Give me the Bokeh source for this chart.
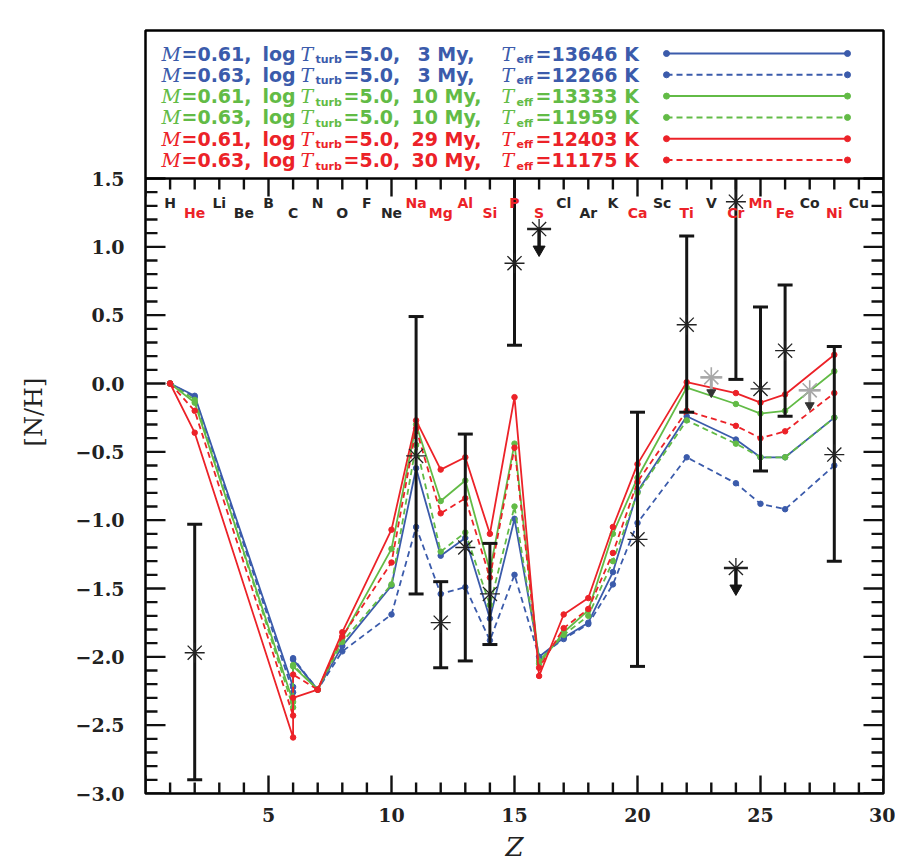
import numpy as np
from bokeh.plotting import figure
from bokeh.models import Range1d, LinearAxis, FixedTicker, Span
from bokeh.core.properties import value
from bokeh.embed import file_html
from bokeh.resources import INLINE

# ---------------- data ----------------
elements = ["H", "He", "Li", "Be", "B", "C", "N", "O", "F", "Ne", "Na", "Mg", "Al", "Si", "P",
            "S", "Cl", "Ar", "K", "Ca", "Sc", "Ti", "V", "Cr", "Mn", "Fe", "Co", "Ni", "Cu"]
observed_elements = ["He", "Na", "Mg", "Al", "Si", "P", "S", "Ca", "Ti", "Cr", "Mn", "Fe", "Ni"]

model_z = [1, 2, 6, 6, 7, 8, 10, 11, 12, 13, 14, 15, 16, 17, 18, 19, 20, 22, 24, 25, 26, 28]
blue_solid   = [0, -0.09, -2.22, -2.02, -2.24, -1.92, -1.48, -0.62, -1.26, -1.13, -1.72, -0.99, -2.00, -1.86, -1.75, -1.38, -0.79, -0.24, -0.41, -0.54, -0.54, -0.25]
blue_dashed  = [0, -0.10, -2.26, -2.01, -2.24, -1.96, -1.69, -1.05, -1.54, -1.49, -1.88, -1.40, -2.00, -1.87, -1.76, -1.47, -1.02, -0.54, -0.73, -0.88, -0.92, -0.60]
green_solid  = [0, -0.14, -2.33, -2.07, -2.24, -1.86, -1.21, -0.30, -0.86, -0.71, -1.37, -0.44, -2.05, -1.82, -1.66, -1.10, -0.69, -0.03, -0.15, -0.22, -0.20, 0.09]
green_dashed = [0, -0.12, -2.37, -2.06, -2.24, -1.89, -1.47, -0.45, -1.23, -1.09, -1.62, -0.90, -2.03, -1.84, -1.70, -1.30, -0.80, -0.27, -0.44, -0.54, -0.54, -0.25]
red_solid    = [0, -0.36, -2.59, -2.30, -2.24, -1.82, -1.07, -0.27, -0.63, -0.54, -1.10, -0.10, -2.14, -1.69, -1.57, -1.05, -0.59, 0.01, -0.07, -0.14, -0.08, 0.21]
red_dashed   = [0, -0.20, -2.43, -2.13, -2.24, -1.85, -1.31, -0.33, -0.95, -0.84, -1.42, -0.47, -2.08, -1.79, -1.65, -1.24, -0.72, -0.20, -0.31, -0.40, -0.35, -0.07]

# observed abundances with error bars
obs_z   = [2, 11, 12, 13, 14, 15, 20, 22, 24, 25, 26, 28]
obs_val = [-1.97, -0.53, -1.75, -1.20, -1.54, 0.88, -1.14, 0.43, 1.33, -0.04, 0.24, -0.52]
obs_lo  = [-2.90, -1.54, -2.08, -2.03, -1.91, 0.28, -2.07, -0.21, 0.03, -0.64, -0.24, -1.30]
obs_hi  = [-1.03, 0.49, -1.45, -0.37, -1.17, 1.55, -0.21, 1.08, 2.63, 0.56, 0.72, 0.27]

# upper limits
ul_z   = [16, 24]
ul_val = [1.13, -1.35]
ul_gray_z   = [23, 27]
ul_gray_val = [0.045, -0.05]

# legend content
leg_mass = ["0.61", "0.63", "0.61", "0.63", "0.61", "0.63"]
leg_logturb = ["5.0"] * 6
leg_age = ["3", "3", "10", "10", "29", "30"]
leg_teff = ["13646", "12266", "13333", "11959", "12403", "11175"]

x_tick_values = [5, 10, 15, 20, 25, 30]
x_tick_labels = ["5", "10", "15", "20", "25", "30"]
y_tick_values = [-3.0, -2.5, -2.0, -1.5, -1.0, -0.5, 0.0, 0.5, 1.0, 1.5]
y_tick_labels = ["\u22123.0", "\u22122.5", "\u22122.0", "\u22121.5", "\u22121.0", "\u22120.5",
                 "0.0", "0.5", "1.0", "1.5"]

# ---------------- geometry / styles ----------------
BLUE, GREEN, RED = "#3b5bab", "#62bb46", "#ec2228"
series = [
    (blue_solid, BLUE, "solid"), (blue_dashed, BLUE, "6 4"),
    (green_solid, GREEN, "solid"), (green_dashed, GREEN, "6 4"),
    (red_solid, RED, "solid"), (red_dashed, RED, "6 4"),
]
SERIF = value("DejaVu Serif")
SANS = value("DejaVu Sans")

XMIN, XMAX, YMIN, YMAX = 0, 30, -3.0, 1.5
FW, PLOT_H, LEG_H = 738, 615, 148          # frame width, plot height, legend panel height (px)
YTOP = YMAX + LEG_H * (YMAX - YMIN) / PLOT_H  # legend panel lives above y = 1.5
PX_X = (XMAX - XMIN) / FW                    # data units per pixel
PX_Y = (YMAX - YMIN) / PLOT_H

p = figure(frame_width=FW, frame_height=PLOT_H + LEG_H,
           x_range=Range1d(XMIN, XMAX), y_range=Range1d(YMIN, YTOP),
           output_backend="svg", toolbar_location=None,
           x_axis_location=None, y_axis_location=None,
           min_border_left=145, min_border_right=12, min_border_top=30, min_border_bottom=68)
p.grid.visible = False
p.outline_line_color = "black"
p.outline_line_width = 2.5
p.background_fill_color = "white"
p.border_fill_color = "white"

# axes (labels only; ticks drawn inside the frame below)
xb = LinearAxis(ticker=FixedTicker(ticks=x_tick_values))
xb.major_label_overrides = dict(zip(x_tick_values, x_tick_labels))
yl = LinearAxis(ticker=FixedTicker(ticks=y_tick_values))
yl.major_label_overrides = dict(zip(y_tick_values, y_tick_labels))
for ax in (xb, yl):
    ax.axis_line_color = None
    ax.major_tick_line_color = None
    ax.minor_tick_line_color = None
    ax.major_tick_in = 0
    ax.major_tick_out = 0
    ax.minor_tick_in = 0
    ax.minor_tick_out = 0
    ax.major_label_text_font = "DejaVu Serif"
    ax.major_label_text_font_style = "bold"
    ax.major_label_text_font_size = "19px"
    ax.major_label_text_color = "#222222"
    ax.axis_label_text_color = "#222222"
    ax.axis_label_text_font = "DejaVu Serif"
xb.major_label_standoff = 14
xb.axis_label = "Z"
xb.axis_label_text_font_style = "italic"
xb.axis_label_text_font_size = "26px"
xb.axis_label_standoff = 7
yl.major_label_standoff = 21
yl.axis_label = "[N/H]"
yl.axis_label_text_font_style = "normal"
yl.axis_label_text_font_size = "24px"
yl.axis_label_standoff = 25
p.add_layout(xb, "below")
p.add_layout(yl, "left")

# separator between legend panel and plot
p.add_layout(Span(location=YMAX, dimension="width", line_color="black", line_width=2.5))

# inward ticks on all four sides of the plot area
x_major = list(range(XMIN, XMAX + 1, 5))
x_minor = [z for z in range(XMIN, XMAX + 1) if z % 5]
y_major = y_tick_values
y_minor = [round(YMIN + 0.1 * i, 1) for i in range(46) if i % 5]
TK = dict(line_color="#111111", line_width=2.4)


def hticks(ys, x0, length_px):
    p.segment(x0=[x0] * len(ys), y0=ys, x1=[x0 + length_px * PX_X] * len(ys), y1=ys, **TK)


def vticks(xs, y0, length_px):
    p.segment(x0=xs, y0=[y0] * len(xs), x1=xs, y1=[y0 + length_px * PX_Y] * len(xs), **TK)


hticks(y_major, XMIN, 20)
hticks(y_minor, XMIN, 12)
hticks(y_major, XMAX, -20)
hticks(y_minor, XMAX, -12)
vticks(x_major, YMIN, 18)
vticks(x_minor, YMIN, 11)
vticks(x_major, YMAX, -18)
vticks(x_minor, YMAX, -11)

# model curves
for vals, color, dash in series:
    p.line(x=model_z, y=vals, line_color=color, line_width=1.8, line_dash=dash)
    p.scatter(x=model_z, y=vals, size=5.5, color=color)

# observed values with error bars (clipped at the top of the plot area)
hi_clip = [min(h, YMAX) for h in obs_hi]
p.segment(x0=obs_z, y0=obs_lo, x1=obs_z, y1=hi_clip, line_color="#151515", line_width=3)
p.scatter(x=obs_z, y=obs_lo, marker="dash", size=15, line_color="#151515", line_width=3)
cap_z = [z for z, h in zip(obs_z, obs_hi) if h <= YMAX]
cap_h = [h for h in obs_hi if h <= YMAX]
p.scatter(x=cap_z, y=cap_h, marker="dash", size=15, line_color="#151515", line_width=3)
p.scatter(x=obs_z, y=obs_val, marker="asterisk", size=20, line_color="#222222", line_width=1.3)

# upper limits (black)
arrow_len = 0.13
p.scatter(x=ul_z, y=ul_val, marker="asterisk", size=20, line_color="#222222", line_width=1.3)
p.scatter(x=ul_z, y=ul_val, marker="dash", size=24, line_color="#222222", line_width=2.5)
p.segment(x0=ul_z, y0=ul_val, x1=ul_z, y1=[v - arrow_len for v in ul_val],
          line_color="#151515", line_width=3.5)
p.scatter(x=ul_z, y=[v - arrow_len - 0.02 for v in ul_val], marker="inverted_triangle",
          size=12, color="#151515")

# upper limits (gray)
p.scatter(x=ul_gray_z, y=ul_gray_val, marker="asterisk", size=20, line_color="#a8a8a8", line_width=1.6)
p.scatter(x=ul_gray_z, y=ul_gray_val, marker="dash", size=22, line_color="#a8a8a8", line_width=2.5)
p.segment(x0=ul_gray_z, y0=ul_gray_val, x1=ul_gray_z, y1=[v - 0.1 for v in ul_gray_val],
          line_color="#a8a8a8", line_width=3)
p.scatter(x=ul_gray_z, y=[v - 0.11 for v in ul_gray_val], marker="inverted_triangle",
          size=9, color="#333333")

# element labels along the top of the plot area
el_z = list(range(1, len(elements) + 1))
el_y = [1.318 if z % 2 == 1 else 1.245 for z in el_z]
el_c = [RED if e in observed_elements else "#262626" for e in elements]
p.text(x=el_z, y=el_y, text=elements, text_align="center", text_baseline="middle",
       text_font=SANS, text_font_style="bold", text_font_size="14px", text_color=el_c)

# ---------------- legend panel (pixel layout converted to data units) ----------------
def lx(px):
    return XMIN + px * PX_X


def ly(py_from_top):
    return YMAX + (LEG_H - py_from_top) * PX_Y


for i, (vals, color, dash) in enumerate(series):
    yr = ly(23 + i * 21.3)

    def t(px, s, font=SANS, style="bold", size="19px", yoff=0):
        p.text(x=[lx(px)], y=[yr], text=[s], text_font=font, text_font_style=style,
               text_font_size=size, text_color=color, text_baseline="middle",
               text_align="left", y_offset=yoff)

    t(16, "M", font=SERIF, style="italic")
    t(36, "=" + leg_mass[i] + ",")
    t(117, "log")
    t(155, "T", font=SERIF, style="italic")
    t(170, "turb", size="11px", yoff=6)
    t(198, "=" + leg_logturb[i] + ",")
    t(272 if len(leg_age[i]) == 1 else 266, leg_age[i] + " My,")
    t(356, "T", font=SERIF, style="italic")
    t(371, "eff", size="11px", yoff=6)
    t(390, "=" + leg_teff[i] + " K")
    p.line(x=[lx(521), lx(702)], y=[yr, yr], line_color=color, line_width=2, line_dash=dash)
    p.scatter(x=[lx(521), lx(702)], y=[yr, yr], size=6, color=color)

open("out.html", "w").write(file_html(p, INLINE))
